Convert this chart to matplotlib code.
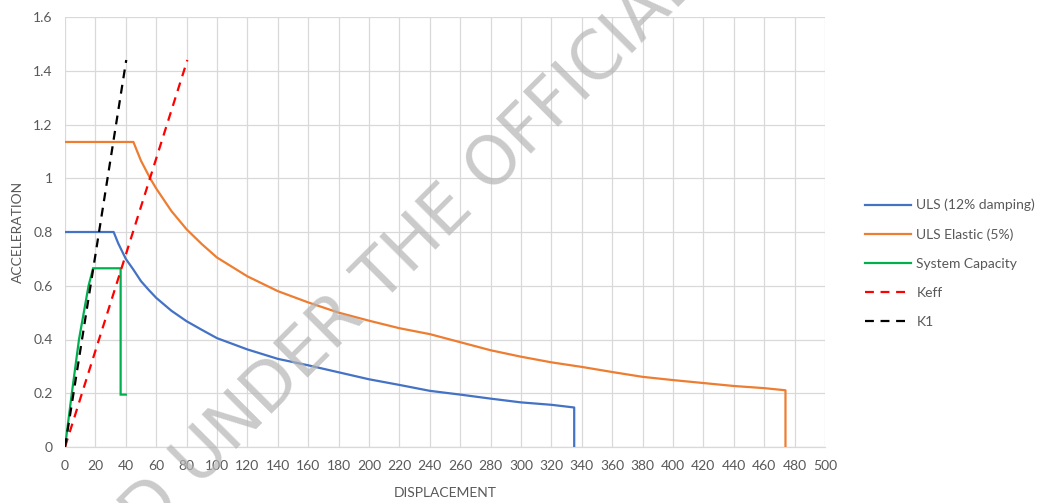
import matplotlib
matplotlib.use("Agg")
import matplotlib.pyplot as plt
from matplotlib.lines import Line2D

# ---------------- data ----------------
uls_x = [0, 32, 35, 40, 45, 50, 55, 60, 70, 80, 90, 100, 120, 140, 160, 180, 200,
         220, 240, 260, 280, 300, 320, 335, 335]
uls_y = [0.80, 0.80, 0.758, 0.70, 0.66, 0.617, 0.585, 0.555, 0.507, 0.468, 0.436,
         0.405, 0.363, 0.328, 0.304, 0.278, 0.252, 0.231, 0.209, 0.195, 0.180,
         0.166, 0.157, 0.147, 0.0]

elastic_x = [0, 45, 50, 56, 60, 70, 80, 90, 100, 120, 140, 160, 180, 200, 220,
             240, 260, 280, 300, 320, 340, 360, 380, 400, 420, 440, 460, 474, 474]
elastic_y = [1.135, 1.135, 1.065, 1.00, 0.962, 0.878, 0.81, 0.755, 0.705, 0.635,
             0.580, 0.538, 0.500, 0.470, 0.442, 0.420, 0.390, 0.360, 0.336,
             0.315, 0.298, 0.279, 0.261, 0.249, 0.238, 0.227, 0.219, 0.211, 0.0]

capacity_x = [0, 4.5, 9.2, 15.5, 18.5, 36.6, 36.6, 40]
capacity_y = [0, 0.20, 0.40, 0.60, 0.665, 0.665, 0.195, 0.195]

keff_x = [0, 80.5]
keff_y = [0, 1.44]

k1_x = [0, 40.3]
k1_y = [0, 1.44]

series_labels = ["ULS (12% damping)", "ULS Elastic (5%)", "System Capacity", "Keff", "K1"]
x_ticks = list(range(0, 501, 20))
y_ticks = [0, 0.2, 0.4, 0.6, 0.8, 1.0, 1.2, 1.4, 1.6]
y_tick_labels = ["0", "0.2", "0.4", "0.6", "0.8", "1", "1.2", "1.4", "1.6"]

# ---------------- figure ----------------
plt.rcParams['font.family'] = ['Lato', 'DejaVu Sans']
W, H = 1039, 503
fig = plt.figure(figsize=(W / 100, H / 100), dpi=100)
ax = fig.add_axes([65 / W, (H - 447) / H, 760 / W, 430 / H])

lw = 1.6
ax.plot(uls_x, uls_y, color="#4472C4", lw=lw, zorder=3, solid_joinstyle='round')
ax.plot(elastic_x, elastic_y, color="#ED7D31", lw=lw, zorder=3, solid_joinstyle='round')
ax.plot(capacity_x, capacity_y, color="#00B050", lw=lw, zorder=3, solid_joinstyle='miter')
ax.plot(keff_x, keff_y, color="#FF0000", lw=lw, dashes=(4, 3), zorder=4)
ax.plot(k1_x, k1_y, color="#000000", lw=lw, dashes=(4, 3), zorder=4)

ax.set_xlim(0, 500)
ax.set_ylim(0, 1.6)
ax.set_xticks(x_ticks)
ax.set_xticklabels([str(v) for v in x_ticks])
ax.set_yticks(y_ticks)
ax.set_yticklabels(y_tick_labels)
ax.grid(True, color="#D9D9D9", lw=0.9, zorder=0)
ax.set_axisbelow(True)
for s in ["top", "right", "left"]:
    ax.spines[s].set_visible(False)
ax.spines["bottom"].set_color("#D9D9D9")
ax.spines["bottom"].set_linewidth(0.9)
ax.tick_params(axis="both", length=0, labelsize=10, colors="#595959")
ax.tick_params(axis="x", pad=9)
ax.tick_params(axis="y", pad=9)

fig.text(445 / W, (H - 493) / H, "DISPLACEMENT", ha="center", va="center",
         fontsize=10, color="#595959")
fig.text(18 / W, (H - 232) / H, "ACCELERATION", ha="center", va="center",
         rotation=90, fontsize=10, color="#595959")

# legend
colors = ["#4472C4", "#ED7D31", "#00B050", "#FF0000", "#000000"]
handles = []
for i, c in enumerate(colors):
    if i < 3:
        handles.append(Line2D([], [], color=c, lw=lw))
    else:
        handles.append(Line2D([], [], color=c, lw=lw, dashes=(4, 3)))
leg = fig.legend(handles, series_labels, loc="upper left",
                 bbox_to_anchor=(858 / W, (H - 192) / H),
                 frameon=False, fontsize=10, handlelength=3.3,
                 handletextpad=0.4, labelspacing=1.22, borderpad=0)
for t in leg.get_texts():
    t.set_color("#595959")

# watermark
wm_kw = dict(transform=fig.dpi_scale_trans, rotation=45, rotation_mode="anchor",
             va="baseline", fontsize=48, color="#b4b4b4", alpha=0.7, zorder=10,
             family=["DejaVu Sans"])
fig.text(490 / 100, (H - 195) / 100, "OFFICIAL INFORMATION ACT", ha="left", **wm_kw)
fig.text(475 / 100, (H - 210) / 100, "RELEASED UNDER THE", ha="right", **wm_kw)

fig.savefig("out.png", dpi=100)
